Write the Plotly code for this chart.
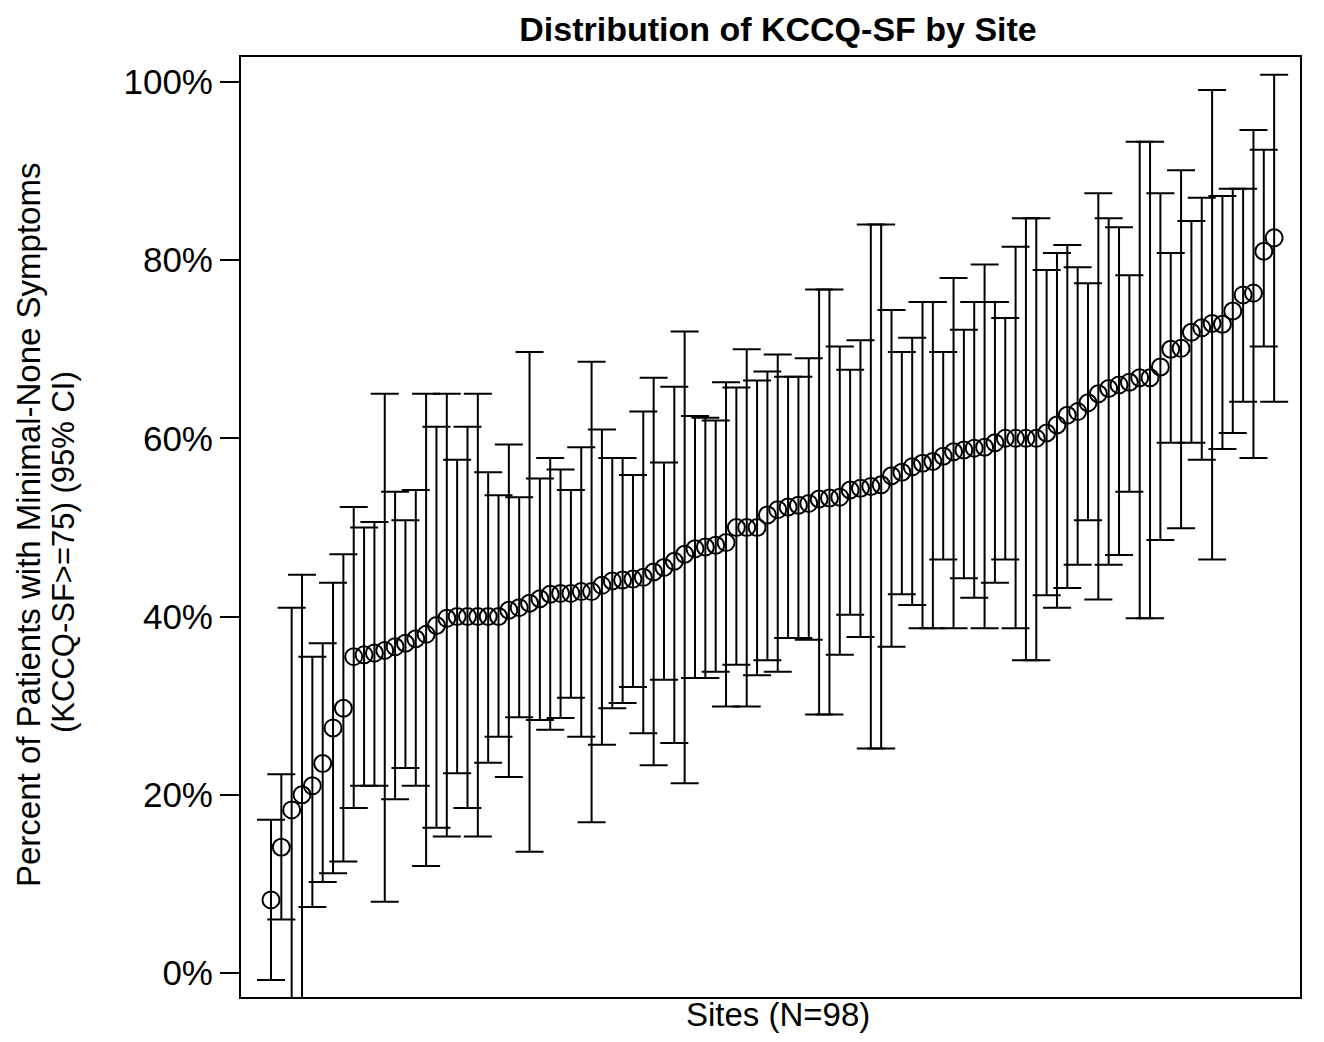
import plotly.graph_objects as go

# Sites sorted by point estimate (98 sites)
sites = list(range(1, 99))

pct = [8.2, 14.1, 18.3, 20.0, 21.0, 23.5, 27.5, 29.7, 35.5, 35.7,
       35.9, 36.2, 36.6, 37.0, 37.5, 38.0, 39.0, 39.8, 40.0, 40.0,
       40.0, 40.0, 40.0, 40.7, 41.0, 41.5, 42.0, 42.5, 42.6, 42.6,
       42.8, 42.8, 43.5, 44.0, 44.1, 44.2, 44.4, 45.0, 45.5, 46.2,
       47.0, 47.6, 47.8, 48.0, 48.3, 50.0, 50.0, 50.0, 51.4, 52.0,
       52.3, 52.5, 52.7, 53.2, 53.3, 53.4, 54.2, 54.4, 54.6, 54.8,
       55.8, 56.2, 56.8, 57.2, 57.4, 58.0, 58.5, 58.7, 58.9, 59.0,
       59.5, 60.0, 60.0, 60.0, 60.0, 60.6, 61.5, 62.6, 63.0, 64.0,
       65.0, 65.6, 66.0, 66.3, 66.8, 66.8, 68.0, 70.0, 70.1, 71.9,
       72.4, 72.9, 72.8, 74.3, 76.1, 76.3, 81.0, 82.5]

upper = [17.2, 22.3, 41.0, 44.7, 35.5, 37.0, 43.8, 47.0, 52.3, 50.0,
         50.6, 65.0, 54.0, 50.8, 54.2, 65.0, 61.3, 65.0, 57.6, 61.3,
         65.0, 56.2, 53.6, 59.3, 53.4, 69.7, 55.5, 57.8, 56.5, 54.2,
         59.0, 68.6, 61.0, 57.8, 57.8, 55.9, 63.0, 66.8, 57.3, 65.8,
         72.0, 62.5, 62.3, 62.0, 66.3, 65.7, 70.0, 66.5, 67.5, 69.4,
         66.9, 66.9, 69.0, 76.7, 76.7, 70.3, 67.7, 71.0, 84.0, 84.0,
         74.4, 69.7, 71.3, 75.3, 75.3, 69.7, 78.0, 72.2, 75.3, 79.5,
         75.3, 73.5, 81.5, 84.7, 84.7, 78.9, 80.8, 81.7, 79.2, 77.4,
         87.5, 84.7, 83.7, 78.3, 93.3, 93.3, 87.5, 80.8, 90.1, 84.4,
         87.0, 99.1, 87.2, 88.0, 88.0, 94.6, 92.4, 100.8]

lower = [-0.8, 6.0, -4.4, -4.7, 7.4, 10.2, 11.2, 12.5, 18.5, 21.0,
         21.0, 8.0, 19.5, 23.0, 21.0, 12.0, 16.3, 15.3, 22.4, 18.5,
         15.3, 23.6, 26.5, 22.0, 28.7, 13.6, 28.4, 27.3, 28.6, 30.9,
         26.5, 16.9, 25.6, 29.7, 30.3, 32.1, 26.9, 23.3, 32.9, 25.8,
         21.3, 33.1, 33.1, 33.8, 29.9, 34.6, 29.9, 33.4, 35.1, 33.8,
         37.6, 37.6, 37.4, 29.0, 29.0, 35.7, 40.2, 37.7, 25.2, 25.2,
         36.6, 42.5, 41.3, 38.7, 38.7, 46.4, 38.7, 44.3, 42.1, 38.7,
         43.8, 46.4, 38.7, 35.1, 35.1, 42.4, 41.0, 43.2, 45.8, 50.8,
         41.9, 45.8, 46.9, 54.0, 39.8, 39.8, 48.6, 59.5, 49.9, 59.5,
         57.6, 46.4, 58.8, 60.6, 64.1, 57.8, 70.3, 64.1]

ytick_vals = [0, 20, 40, 60, 80, 100]
ytick_text = ["0%", "20%", "40%", "60%", "80%", "100%"]

err_plus = [u - p for u, p in zip(upper, pct)]
err_minus = [p - l for p, l in zip(pct, lower)]

FONT = "Liberation Sans, Arial, sans-serif"
W, H = 1308, 1026
L, R, T, B = 233, 16, 49, 37
PW = W - L - R
PH = H - T - B

fig = go.Figure()
fig.add_trace(go.Scatter(
    x=sites, y=pct, mode="markers",
    marker=dict(symbol="circle-open", size=17, color="black",
                line=dict(color="black", width=2)),
    error_y=dict(type="data", symmetric=False, array=err_plus,
                 arrayminus=err_minus, color="black", thickness=2, width=14),
    showlegend=False, cliponaxis=True,
))

fig.update_layout(
    width=W, height=H,
    paper_bgcolor="white", plot_bgcolor="white",
    margin=dict(l=L, r=R, t=T, b=B),
    title=dict(text="<b>Distribution of KCCQ-SF by Site</b>",
               x=770 / W, xanchor="center",
               y=1 - 21 / H, yanchor="middle",
               font=dict(family=FONT, size=34, color="black")),
    font=dict(family=FONT, color="black"),
)

fig.update_xaxes(
    range=[-1.9, 100.5], showticklabels=False, ticks="",
    showgrid=False, zeroline=False,
    showline=True, linecolor="black", linewidth=2, mirror=True,
)

fig.update_yaxes(
    range=[-2.7, 102.8], tickvals=ytick_vals, ticktext=ytick_text,
    ticks="outside", ticklen=19, tickwidth=2, tickcolor="black",
    tickfont=dict(family=FONT, size=35, color="black"),
    showgrid=False, zeroline=False,
    showline=True, linecolor="black", linewidth=2, mirror=True,
)

# x-axis title
fig.add_annotation(
    text="Sites (N=98)",
    xref="paper", yref="paper",
    x=(770 - L) / PW, y=-(1006 - (H - B)) / PH,
    xanchor="center", yanchor="middle", showarrow=False,
    font=dict(family=FONT, size=33, color="black"),
)

# y-axis title (two lines)
fig.add_annotation(
    text="Percent of Patients with Minimal-None Symptoms",
    xref="paper", yref="paper",
    x=(20 - L) / PW, y=(H - B - 517) / PH, xanchor="center", yanchor="middle",
    textangle=-90, showarrow=False,
    font=dict(family=FONT, size=33, color="black"),
)
fig.add_annotation(
    text="(KCCQ-SF>=75) (95% CI)",
    xref="paper", yref="paper",
    x=(55 - L) / PW, y=(H - B - 544) / PH, xanchor="center", yanchor="middle",
    textangle=-90, showarrow=False,
    font=dict(family=FONT, size=31, color="black"),
)

fig.write_html("out.html")
